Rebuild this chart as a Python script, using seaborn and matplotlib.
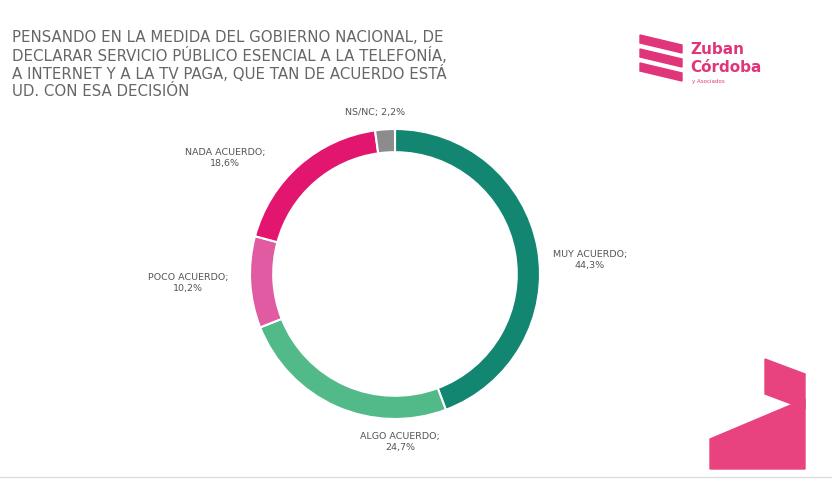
import matplotlib
matplotlib.use("Agg")
import matplotlib.pyplot as plt
import seaborn as sns
from matplotlib.patches import Polygon

labels = ["MUY ACUERDO;\n44,3%", "ALGO ACUERDO;\n24,7%", "POCO ACUERDO;\n10,2%",
          "NADA ACUERDO;\n18,6%", "NS/NC; 2,2%"]
values = [44.3, 24.7, 10.2, 18.6, 2.2]
colors = ["#128670", "#52ba88", "#e05ba2", "#e2166e", "#8c8c8c"]
TITLE = ("PENSANDO EN LA MEDIDA DEL GOBIERNO NACIONAL, DE\n"
         "DECLARAR SERVICIO PÚBLICO ESENCIAL A LA TELEFONÍA,\n"
         "A INTERNET Y A LA TV PAGA, QUE TAN DE ACUERDO ESTÁ\n"
         "UD. CON ESA DECISIÓN")

sns.set_theme(style="white")
plt.rcParams["font.family"] = ["DejaVu Sans"]

fig = plt.figure(figsize=(8.32, 4.89), dpi=100)
fig.patch.set_facecolor("white")

ax = fig.add_axes([(395 - 145)/832, 1 - (275 + 145)/489, 290/832, 290/489])
ax.pie(values, colors=colors, startangle=90, counterclock=False,
       wedgeprops=dict(width=0.16, edgecolor="white", linewidth=1.5))
ax.set_xlim(-1, 1); ax.set_ylim(-1, 1)
ax.set_aspect("equal")

txt = dict(fontsize=6.8, color="#555555", ha="center", va="center")
fig.text(590/832, 1 - 260/489, labels[0], **txt)
fig.text(400/832, 1 - 442/489, labels[1], **txt)
fig.text(188/832, 1 - 283/489, labels[2], **txt)
fig.text(225/832, 1 - 158/489, labels[3], **txt)
fig.text(375/832, 1 - 113/489, labels[4], **txt)

fig.text(12/832, 1 - 30/489, TITLE, fontsize=10.8, color="#666666",
         ha="left", va="top", linespacing=1.12)

# logo
logo = fig.add_axes([0, 0, 1, 1], zorder=-1)
logo.set_xlim(0, 832); logo.set_ylim(489, 0); logo.axis("off")
pink = "#e0357a"
for y0 in (36, 50, 64):
    logo.add_patch(Polygon([(640, y0), (682, y0 + 10), (682, y0 + 18), (640, y0 + 8)],
                           color=pink))
logo.text(690, 50, "Zuban", fontsize=11, color=pink, fontweight="bold", va="center")
logo.text(690, 67, "Córdoba", fontsize=11, color=pink, fontweight="bold", va="center")
logo.text(692, 81, "y Asociados", fontsize=4, color=pink, va="center")
# corner decorations
logo.add_patch(Polygon([(765, 360), (805, 375), (805, 410), (765, 395)], color="#e8437f"))
logo.add_patch(Polygon([(710, 440), (805, 400), (805, 470), (710, 470)], color="#e8437f"))
logo.plot([0, 832], [478, 478], color="#dddddd", lw=1)

fig.savefig("out.png", dpi=100, facecolor="white")
